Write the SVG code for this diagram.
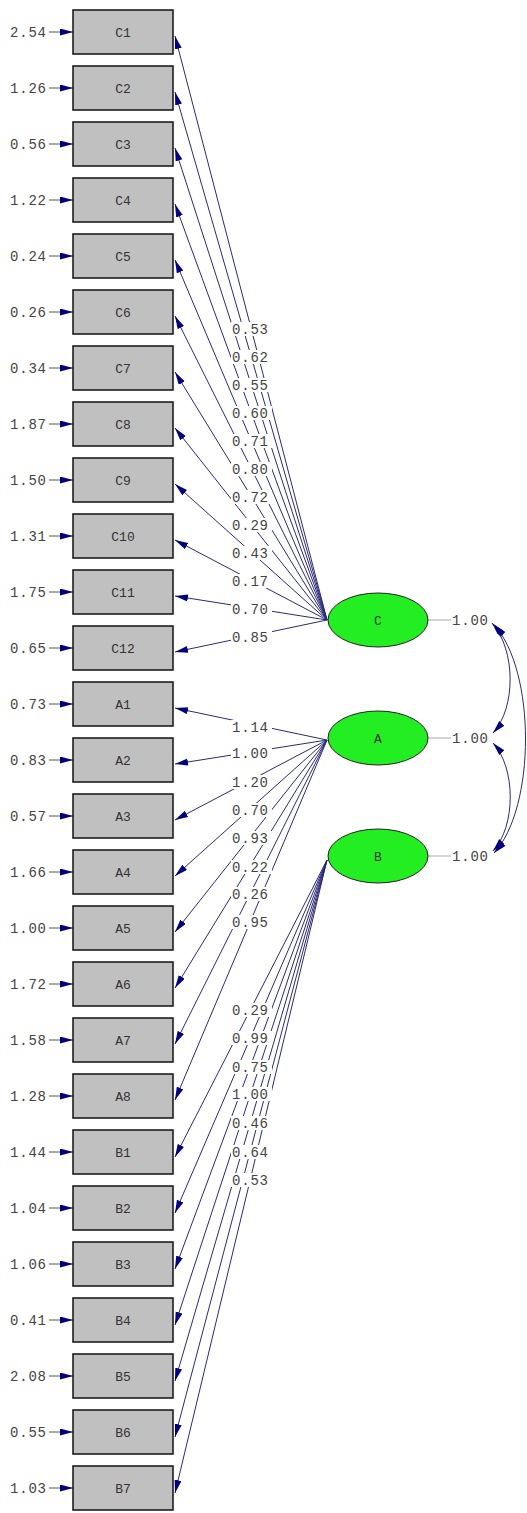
<svg xmlns="http://www.w3.org/2000/svg" width="527" height="1513" viewBox="0 0 527 1513">
<style>
.box rect{fill:#c0c0c0;stroke:#111;stroke-width:1.5}
.box text,.lat text{font-family:"Liberation Mono",monospace;font-size:13px;fill:#333;text-anchor:middle}
.lat ellipse{fill:#22ee22;stroke:#222;stroke-width:1}
.num{font-family:"Liberation Mono",monospace;font-size:14px;fill:#444;letter-spacing:0.8px}
.ld{stroke:#2a2a78;stroke-width:1;fill:none;marker-end:url(#ah)}
.er{stroke:#555;stroke-width:1;fill:none;marker-end:url(#ah)}
.cv{stroke:#2a2a78;stroke-width:1;fill:none;marker-start:url(#ah2);marker-end:url(#ah2)}
.bg{fill:#fff}
</style>
<defs>
<marker id="ah" markerUnits="userSpaceOnUse" markerWidth="14" markerHeight="8" refX="13" refY="3.5" orient="auto"><path d="M0,0 L13,3.5 L0,7 z" fill="#000080"/></marker>
<marker id="ah2" markerUnits="userSpaceOnUse" markerWidth="14" markerHeight="8" refX="13" refY="3.5" orient="auto-start-reverse"><path d="M0,0 L13,3.5 L0,7 z" fill="#000080"/></marker>
</defs>
<rect width="527" height="1513" fill="#fff"/>
<g id="connectors">
<line class="ld" x1="327" y1="620" x2="175" y2="36"/>
<line class="ld" x1="327" y1="620" x2="175" y2="92"/>
<line class="ld" x1="327" y1="620" x2="175" y2="148"/>
<line class="ld" x1="327" y1="620" x2="175" y2="204"/>
<line class="ld" x1="327" y1="620" x2="175" y2="260"/>
<line class="ld" x1="327" y1="620" x2="175" y2="316"/>
<line class="ld" x1="327" y1="620" x2="175" y2="372"/>
<line class="ld" x1="327" y1="620" x2="175" y2="428"/>
<line class="ld" x1="327" y1="620" x2="175" y2="484"/>
<line class="ld" x1="327" y1="620" x2="175" y2="540"/>
<line class="ld" x1="327" y1="620" x2="175" y2="596"/>
<line class="ld" x1="327" y1="620" x2="175" y2="652"/>
<line class="ld" x1="327" y1="740" x2="175" y2="708"/>
<line class="ld" x1="327" y1="740" x2="175" y2="764"/>
<line class="ld" x1="327" y1="740" x2="175" y2="820"/>
<line class="ld" x1="327" y1="740" x2="175" y2="876"/>
<line class="ld" x1="327" y1="740" x2="175" y2="932"/>
<line class="ld" x1="327" y1="740" x2="175" y2="988"/>
<line class="ld" x1="327" y1="740" x2="175" y2="1044"/>
<line class="ld" x1="327" y1="740" x2="175" y2="1100"/>
<line class="ld" x1="327" y1="860" x2="175" y2="1157"/>
<line class="ld" x1="327" y1="860" x2="175" y2="1213"/>
<line class="ld" x1="327" y1="860" x2="175" y2="1269"/>
<line class="ld" x1="327" y1="860" x2="175" y2="1325"/>
<line class="ld" x1="327" y1="860" x2="175" y2="1381"/>
<line class="ld" x1="327" y1="860" x2="175" y2="1437"/>
<line class="ld" x1="327" y1="860" x2="175" y2="1493"/>
<g>
<rect class="bg" x="231" y="322" width="41" height="14"/><text class="num" x="232" y="334">0.53</text>
<rect class="bg" x="231" y="350" width="41" height="14"/><text class="num" x="232" y="362">0.62</text>
<rect class="bg" x="231" y="378" width="41" height="14"/><text class="num" x="232" y="390">0.55</text>
<rect class="bg" x="231" y="406" width="41" height="14"/><text class="num" x="232" y="418">0.60</text>
<rect class="bg" x="231" y="434" width="41" height="14"/><text class="num" x="232" y="446">0.71</text>
<rect class="bg" x="231" y="462" width="41" height="14"/><text class="num" x="232" y="474">0.80</text>
<rect class="bg" x="231" y="490" width="41" height="14"/><text class="num" x="232" y="502">0.72</text>
<rect class="bg" x="231" y="518" width="41" height="14"/><text class="num" x="232" y="530">0.29</text>
<rect class="bg" x="231" y="546" width="41" height="14"/><text class="num" x="232" y="558">0.43</text>
<rect class="bg" x="231" y="574" width="41" height="14"/><text class="num" x="232" y="586">0.17</text>
<rect class="bg" x="231" y="602" width="41" height="14"/><text class="num" x="232" y="614">0.70</text>
<rect class="bg" x="231" y="630" width="41" height="14"/><text class="num" x="232" y="642">0.85</text>
<rect class="bg" x="231" y="720" width="41" height="14"/><text class="num" x="232" y="732">1.14</text>
<rect class="bg" x="231" y="746" width="41" height="14"/><text class="num" x="232" y="758">1.00</text>
<rect class="bg" x="231" y="775" width="41" height="14"/><text class="num" x="232" y="787">1.20</text>
<rect class="bg" x="231" y="803" width="41" height="14"/><text class="num" x="232" y="815">0.70</text>
<rect class="bg" x="231" y="831" width="41" height="14"/><text class="num" x="232" y="843">0.93</text>
<rect class="bg" x="231" y="860" width="41" height="14"/><text class="num" x="232" y="872">0.22</text>
<rect class="bg" x="231" y="887" width="41" height="14"/><text class="num" x="232" y="899">0.26</text>
<rect class="bg" x="231" y="915" width="41" height="14"/><text class="num" x="232" y="927">0.95</text>
<rect class="bg" x="231" y="1003" width="41" height="14"/><text class="num" x="232" y="1015">0.29</text>
<rect class="bg" x="231" y="1031" width="41" height="14"/><text class="num" x="232" y="1043">0.99</text>
<rect class="bg" x="231" y="1060" width="41" height="14"/><text class="num" x="232" y="1072">0.75</text>
<rect class="bg" x="231" y="1087" width="41" height="14"/><text class="num" x="232" y="1099">1.00</text>
<rect class="bg" x="231" y="1116" width="41" height="14"/><text class="num" x="232" y="1128">0.46</text>
<rect class="bg" x="231" y="1145" width="41" height="14"/><text class="num" x="232" y="1157">0.64</text>
<rect class="bg" x="231" y="1173" width="41" height="14"/><text class="num" x="232" y="1185">0.53</text>
</g>
<g>
<line class="er" x1="49" y1="32" x2="73" y2="32"/>
<line class="er" x1="49" y1="88" x2="73" y2="88"/>
<line class="er" x1="49" y1="144" x2="73" y2="144"/>
<line class="er" x1="49" y1="200" x2="73" y2="200"/>
<line class="er" x1="49" y1="256" x2="73" y2="256"/>
<line class="er" x1="49" y1="312" x2="73" y2="312"/>
<line class="er" x1="49" y1="368" x2="73" y2="368"/>
<line class="er" x1="49" y1="424" x2="73" y2="424"/>
<line class="er" x1="49" y1="480" x2="73" y2="480"/>
<line class="er" x1="49" y1="536" x2="73" y2="536"/>
<line class="er" x1="49" y1="592" x2="73" y2="592"/>
<line class="er" x1="49" y1="648" x2="73" y2="648"/>
<line class="er" x1="49" y1="704" x2="73" y2="704"/>
<line class="er" x1="49" y1="760" x2="73" y2="760"/>
<line class="er" x1="49" y1="816" x2="73" y2="816"/>
<line class="er" x1="49" y1="872" x2="73" y2="872"/>
<line class="er" x1="49" y1="928" x2="73" y2="928"/>
<line class="er" x1="49" y1="984" x2="73" y2="984"/>
<line class="er" x1="49" y1="1040" x2="73" y2="1040"/>
<line class="er" x1="49" y1="1096" x2="73" y2="1096"/>
<line class="er" x1="49" y1="1152" x2="73" y2="1152"/>
<line class="er" x1="49" y1="1208" x2="73" y2="1208"/>
<line class="er" x1="49" y1="1264" x2="73" y2="1264"/>
<line class="er" x1="49" y1="1320" x2="73" y2="1320"/>
<line class="er" x1="49" y1="1376" x2="73" y2="1376"/>
<line class="er" x1="49" y1="1432" x2="73" y2="1432"/>
<line class="er" x1="49" y1="1488" x2="73" y2="1488"/>
</g>
<g>
<text class="num" x="10" y="37">2.54</text>
<text class="num" x="10" y="93">1.26</text>
<text class="num" x="10" y="149">0.56</text>
<text class="num" x="10" y="205">1.22</text>
<text class="num" x="10" y="261">0.24</text>
<text class="num" x="10" y="317">0.26</text>
<text class="num" x="10" y="373">0.34</text>
<text class="num" x="10" y="429">1.87</text>
<text class="num" x="10" y="485">1.50</text>
<text class="num" x="10" y="541">1.31</text>
<text class="num" x="10" y="597">1.75</text>
<text class="num" x="10" y="653">0.65</text>
<text class="num" x="10" y="709">0.73</text>
<text class="num" x="10" y="765">0.83</text>
<text class="num" x="10" y="821">0.57</text>
<text class="num" x="10" y="877">1.66</text>
<text class="num" x="10" y="933">1.00</text>
<text class="num" x="10" y="989">1.72</text>
<text class="num" x="10" y="1045">1.58</text>
<text class="num" x="10" y="1101">1.28</text>
<text class="num" x="10" y="1157">1.44</text>
<text class="num" x="10" y="1213">1.04</text>
<text class="num" x="10" y="1269">1.06</text>
<text class="num" x="10" y="1325">0.41</text>
<text class="num" x="10" y="1381">2.08</text>
<text class="num" x="10" y="1437">0.55</text>
<text class="num" x="10" y="1493">1.03</text>
</g>
<line x1="428" y1="620" x2="451" y2="620" stroke="#aaa" stroke-width="1"/>
<line x1="428" y1="738" x2="451" y2="738" stroke="#aaa" stroke-width="1"/>
<line x1="428" y1="856" x2="451" y2="856" stroke="#aaa" stroke-width="1"/>
<text class="num" x="452" y="625">1.00</text>
<text class="num" x="452" y="743">1.00</text>
<text class="num" x="452" y="861">1.00</text>
<path class="cv" d="M492,623 C516,650 516,708 493,733"/>
<path class="cv" d="M493,743 C516,768 516,826 493,851"/>
<path class="cv" d="M494,625 C536,670 536,808 494,853"/>
</g>
<g id="C" class="lat"><ellipse cx="378" cy="620" rx="50" ry="27"/><text x="378" y="625">C</text></g>
<g id="A" class="lat"><ellipse cx="378" cy="738" rx="50" ry="27"/><text x="378" y="743">A</text></g>
<g id="B" class="lat"><ellipse cx="378" cy="856" rx="50" ry="27"/><text x="378" y="861">B</text></g>
<g id="C1" class="box"><rect x="73" y="10" width="100" height="44"/><text x="123" y="37">C1</text></g>
<g id="C2" class="box"><rect x="73" y="66" width="100" height="44"/><text x="123" y="93">C2</text></g>
<g id="C3" class="box"><rect x="73" y="122" width="100" height="44"/><text x="123" y="149">C3</text></g>
<g id="C4" class="box"><rect x="73" y="178" width="100" height="44"/><text x="123" y="205">C4</text></g>
<g id="C5" class="box"><rect x="73" y="234" width="100" height="44"/><text x="123" y="261">C5</text></g>
<g id="C6" class="box"><rect x="73" y="290" width="100" height="44"/><text x="123" y="317">C6</text></g>
<g id="C7" class="box"><rect x="73" y="346" width="100" height="44"/><text x="123" y="373">C7</text></g>
<g id="C8" class="box"><rect x="73" y="402" width="100" height="44"/><text x="123" y="429">C8</text></g>
<g id="C9" class="box"><rect x="73" y="458" width="100" height="44"/><text x="123" y="485">C9</text></g>
<g id="C10" class="box"><rect x="73" y="514" width="100" height="44"/><text x="123" y="541">C10</text></g>
<g id="C11" class="box"><rect x="73" y="570" width="100" height="44"/><text x="123" y="597">C11</text></g>
<g id="C12" class="box"><rect x="73" y="626" width="100" height="44"/><text x="123" y="653">C12</text></g>
<g id="A1" class="box"><rect x="73" y="682" width="100" height="44"/><text x="123" y="709">A1</text></g>
<g id="A2" class="box"><rect x="73" y="738" width="100" height="44"/><text x="123" y="765">A2</text></g>
<g id="A3" class="box"><rect x="73" y="794" width="100" height="44"/><text x="123" y="821">A3</text></g>
<g id="A4" class="box"><rect x="73" y="850" width="100" height="44"/><text x="123" y="877">A4</text></g>
<g id="A5" class="box"><rect x="73" y="906" width="100" height="44"/><text x="123" y="933">A5</text></g>
<g id="A6" class="box"><rect x="73" y="962" width="100" height="44"/><text x="123" y="989">A6</text></g>
<g id="A7" class="box"><rect x="73" y="1018" width="100" height="44"/><text x="123" y="1045">A7</text></g>
<g id="A8" class="box"><rect x="73" y="1074" width="100" height="44"/><text x="123" y="1101">A8</text></g>
<g id="B1" class="box"><rect x="73" y="1130" width="100" height="44"/><text x="123" y="1157">B1</text></g>
<g id="B2" class="box"><rect x="73" y="1186" width="100" height="44"/><text x="123" y="1213">B2</text></g>
<g id="B3" class="box"><rect x="73" y="1242" width="100" height="44"/><text x="123" y="1269">B3</text></g>
<g id="B4" class="box"><rect x="73" y="1298" width="100" height="44"/><text x="123" y="1325">B4</text></g>
<g id="B5" class="box"><rect x="73" y="1354" width="100" height="44"/><text x="123" y="1381">B5</text></g>
<g id="B6" class="box"><rect x="73" y="1410" width="100" height="44"/><text x="123" y="1437">B6</text></g>
<g id="B7" class="box"><rect x="73" y="1466" width="100" height="44"/><text x="123" y="1493">B7</text></g>
</svg>
